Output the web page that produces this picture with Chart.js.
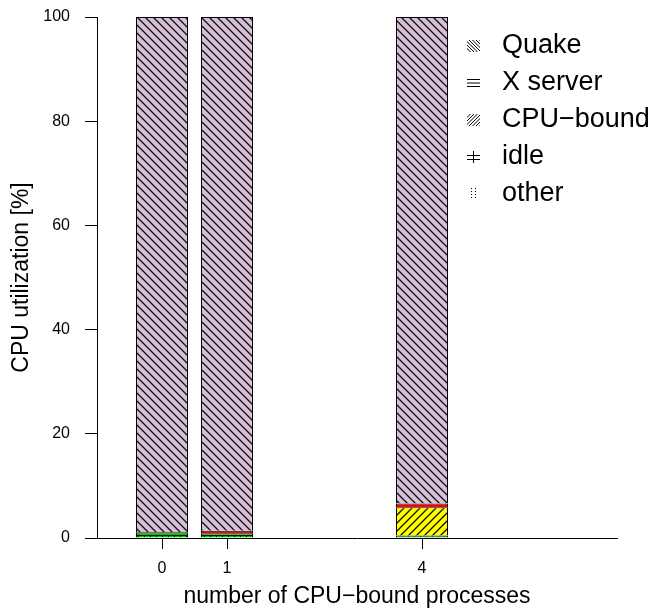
<!DOCTYPE html>
<html>
<head>
<meta charset="utf-8">
<title>CPU utilization</title>
<script src="https://cdn.jsdelivr.net/npm/chart.js@4/dist/chart.umd.min.js"></script>
<style>
  html, body { margin: 0; padding: 0; background: #fff; }
  #wrap { width: 655px; height: 613px; position: relative; }
</style>
</head>
<body>
<div id="wrap"><canvas id="cpuChart"></canvas></div>
<script>
// number of CPU-bound processes running next to Quake
const procCounts = [0, 1, 4];

// share of CPU time [%] per process group, one value per bar
const otherShare = [0, 0, 0];
const idleShare = [1.1, 0.9, 0.5];
const cpuBoundShare = [0, 0, 5.4];
const xServerShare = [0, 0.5, 0.7];
const quakeShare = [98.9, 98.6, 93.4];

const xTicks = [0, 1, 4];
const yTicks = [0, 20, 40, 60, 80, 100];

// legend goes top to bottom, stack goes bottom to top
const legendLabels = ['Quake', 'X server', 'CPU\u2212bound', 'idle', 'other'];
const legendKinds = ['back', 'horiz', 'fwd', 'grid', 'dots'];

const FONT = '"Liberation Sans", Arial, Helvetica, sans-serif';
const ink = '#111';

// build a repeating fill: background colour plus black hatching
function hatch(bg, kind) {
    let size = 8;
    if (kind === 'grid') size = 6;
    if (kind === 'horiz') size = 12;
    const c = document.createElement('canvas');
    c.width = size;
    c.height = size;
    const g = c.getContext('2d');
    g.fillStyle = bg;
    g.fillRect(0, 0, size, size);
    g.strokeStyle = ink;
    g.lineWidth = 1.3;
    g.beginPath();
    if (kind === 'back') {
        g.moveTo(-1, -1); g.lineTo(size + 1, size + 1);
        g.moveTo(-1, size - 1); g.lineTo(1, size + 1);
        g.moveTo(size - 1, -1); g.lineTo(size + 1, 1);
    } else if (kind === 'fwd') {
        g.moveTo(-1, size + 1); g.lineTo(size + 1, -1);
        g.moveTo(-1, 1); g.lineTo(1, -1);
        g.moveTo(size - 1, size + 1); g.lineTo(size + 1, size - 1);
    } else if (kind === 'horiz') {
        g.lineWidth = 1;
        g.moveTo(0, 6.5); g.lineTo(size, 6.5);
    } else if (kind === 'grid') {
        g.lineWidth = 1;
        g.moveTo(0, 1.5); g.lineTo(size, 1.5);
        g.moveTo(0.5, 1); g.lineTo(0.5, 3);
    } else if (kind === 'dots') {
        g.lineWidth = 1;
        g.setLineDash([1, 2]);
        g.moveTo(3.5, 0); g.lineTo(3.5, size);
    }
    g.stroke();
    return g.createPattern(c, 'repeat');
}

// small hatch swatch for the legend, lines only
function drawSwatch(ctx, kind, x, y, w, h) {
    ctx.save();
    ctx.beginPath();
    ctx.rect(x, y, w, h);
    ctx.clip();
    ctx.strokeStyle = '#000';
    ctx.lineWidth = 1;
    ctx.beginPath();
    if (kind === 'back') {
        for (let k = -h; k < w; k += 3.5) { ctx.moveTo(x + k, y); ctx.lineTo(x + k + h, y + h); }
    } else if (kind === 'fwd') {
        for (let k = 0; k < w + h; k += 3.5) { ctx.moveTo(x + k, y); ctx.lineTo(x + k - h, y + h); }
    } else if (kind === 'horiz') {
        for (let k = 2.5; k < h; k += 3.5) { ctx.moveTo(x, y + k); ctx.lineTo(x + w, y + k); }
    } else if (kind === 'grid') {
        ctx.moveTo(x, y + 4.5); ctx.lineTo(x + w, y + 4.5);
        ctx.moveTo(x, y + 8.5); ctx.lineTo(x + w, y + 8.5);
        ctx.moveTo(x + 6.5, y); ctx.lineTo(x + 6.5, y + h);
    } else if (kind === 'dots') {
        ctx.setLineDash([1, 2]);
        ctx.moveTo(x + 4.5, y); ctx.lineTo(x + 4.5, y + h);
        ctx.moveTo(x + 8.5, y); ctx.lineTo(x + 8.5, y + h);
    }
    ctx.stroke();
    ctx.restore();
}

const hatchLegend = {
    id: 'hatchLegend',
    afterDraw(chart) {
        const ctx = chart.ctx;
        ctx.save();
        ctx.font = '27px ' + FONT;
        ctx.textBaseline = 'middle';
        ctx.textAlign = 'left';
        ctx.fillStyle = '#000';
        legendLabels.forEach((label, i) => {
            const y = 46 + i * 37;
            drawSwatch(ctx, legendKinds[i], 467, y - 6, 13, 12);
            ctx.fillText(label, 502, y);
        });
        ctx.restore();
    }
};

function points(values) {
    return procCounts.map((x, i) => ({ x: x, y: values[i] }));
}

// segments share their edges, so the bottom edge is left to the one below
function series(label, values, bg, kind) {
    return {
        label: label,
        data: points(values),
        backgroundColor: hatch(bg, kind),
        borderColor: '#000',
        borderWidth: 1,
        borderSkipped: 'start',
        barPercentage: 0.8,
        categoryPercentage: 1.0
    };
}

const ctx = document.getElementById('cpuChart');

new Chart(ctx, {
    type: 'bar',
    data: {
        datasets: [
            series('other', otherShare, '#006400', 'dots'),
            series('idle', idleShare, '#00c000', 'grid'),
            series('CPU\u2212bound', cpuBoundShare, '#ffff00', 'fwd'),
            series('X server', xServerShare, '#ff0000', 'horiz'),
            series('Quake', quakeShare, '#d8bfd8', 'back')
        ]
    },
    options: {
        responsive: true,
        maintainAspectRatio: false,
        animation: false,
        layout: { padding: { top: 17, right: 38, left: 0, bottom: 0 } },
        plugins: {
            legend: { display: false },
            tooltip: { enabled: false }
        },
        scales: {
            x: {
                type: 'linear',
                min: -1,
                max: 7,
                offset: false,
                stacked: true,
                afterBuildTicks: (scale) => { scale.ticks = xTicks.map(v => ({ value: v })); },
                afterFit: (scale) => { scale.height = 75; },
                grid: { offset: false, drawOnChartArea: false, color: '#000', tickLength: 11 },
                border: { color: '#000', width: 1 },
                ticks: { color: '#000', font: { family: FONT, size: 16 }, padding: 10, maxRotation: 0 },
                title: {
                    display: true,
                    text: 'number of CPU\u2212bound processes',
                    color: '#000',
                    font: { family: FONT, size: 23 },
                    padding: { top: 0, bottom: 3 }
                }
            },
            y: {
                min: 0,
                max: 100,
                stacked: true,
                afterBuildTicks: (scale) => { scale.ticks = yTicks.map(v => ({ value: v })); },
                afterFit: (scale) => {
                    scale.width = 97;
                    scale.paddingTop = 0;
                    scale.paddingBottom = 0;
                },
                grid: { drawOnChartArea: false, color: '#000', tickLength: 12 },
                border: { color: '#000', width: 1 },
                ticks: { color: '#000', font: { family: FONT, size: 16 }, padding: 15 },
                title: {
                    display: true,
                    text: 'CPU utilization [%]',
                    color: '#000',
                    font: { family: FONT, size: 23 },
                    padding: { top: 8, bottom: 0 }
                }
            }
        }
    },
    plugins: [hatchLegend]
});
</script>
</body>
</html>
